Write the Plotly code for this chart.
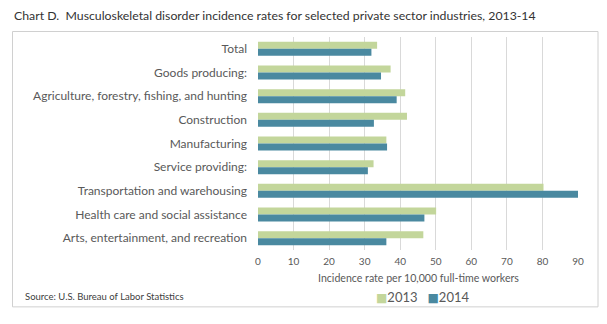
import plotly.graph_objects as go

# Incidence rates per 10,000 full-time workers
industries = [
    "Total",
    "Goods producing:",
    "Agriculture, forestry, fishing, and hunting",
    "Construction",
    "Manufacturing",
    "Service providing:",
    "Transportation and warehousing",
    "Health care and social assistance",
    "Arts, entertainment, and recreation",
]
rates_2013 = [33.5, 37.3, 41.4, 41.9, 36.1, 32.5, 80.3, 50.1, 46.5]
rates_2014 = [31.9, 34.6, 39.0, 32.6, 36.3, 30.9, 90.0, 46.8, 36.1]
x_ticks = [0, 10, 20, 30, 40, 50, 60, 70, 80, 90]
years = ["2013", "2014"]
colors = ["#C3D69B", "#4A89A0"]

W, H = 607, 324
L, R, T, B = 258, 578, 36.5, 250  # plot area edges in pixels
FONT = "Lato"
GREY = "#595959"


def px(x):
    return (x - L) / (R - L)


def py(y):
    return (B - y) / (B - T)


fig = go.Figure()
for name, vals, col in zip(years, [rates_2013, rates_2014], colors):
    fig.add_trace(go.Bar(name=name, y=industries, x=vals, orientation="h",
                         marker=dict(color=col, line=dict(width=0))))

fig.update_layout(
    width=W, height=H,
    margin=dict(l=L, r=W - R, t=T, b=H - B, pad=0),
    paper_bgcolor="white", plot_bgcolor="white",
    barmode="group", bargap=0.41, bargroupgap=0,
    font=dict(family=FONT, color=GREY, size=11),
    showlegend=False,
    xaxis=dict(range=[0, 90], tickvals=x_ticks, showgrid=True, gridcolor="#D9D9D9",
               gridwidth=1, zeroline=False, showline=False, ticks="",
               tickfont=dict(size=10, color=GREY), ticklabelstandoff=4, fixedrange=True),
    yaxis=dict(autorange="reversed", showgrid=False, zeroline=False, showline=False,
               ticks="", ticklabelstandoff=10, tickfont=dict(size=12, color=GREY),
               fixedrange=True),
)

# Outer frame around the chart body
fig.add_shape(type="rect", xref="paper", yref="paper",
              x0=px(12.5), x1=px(598), y0=py(307), y1=py(31),
              line=dict(color="#D0D0D0", width=1), fillcolor="rgba(0,0,0,0)", layer="below")

fig.add_annotation(text="Chart D.  Musculoskeletal disorder incidence rates for selected private sector industries, 2013-14",
                   xref="paper", yref="paper", x=px(12), y=py(15), xanchor="left", yanchor="middle",
                   showarrow=False, font=dict(size=12.3, color="#333333", family=FONT))
fig.add_annotation(text="Incidence rate per 10,000 full-time workers",
                   xref="paper", yref="paper", x=px(418), y=py(278), xanchor="center", yanchor="middle",
                   showarrow=False, font=dict(size=10.6, color=GREY, family=FONT))
fig.add_annotation(text="Source: U.S. Bureau of Labor Statistics",
                   xref="paper", yref="paper", x=px(23), y=py(297), xanchor="left", yanchor="middle",
                   showarrow=False, font=dict(size=9.5, color="#404040", family=FONT))

# Legend: coloured square followed by the year
legend_text = "   ".join(
    f"<span style='color:{c}; font-size:12px; font-family:DejaVu Sans'>■</span>{y}"
    for y, c in zip(years, colors)
)
fig.add_annotation(text=legend_text, xref="paper", yref="paper", x=px(374), y=py(297),
                   xanchor="left", yanchor="middle", showarrow=False,
                   font=dict(size=13, color=GREY, family=FONT))

fig.write_html("out.html")
